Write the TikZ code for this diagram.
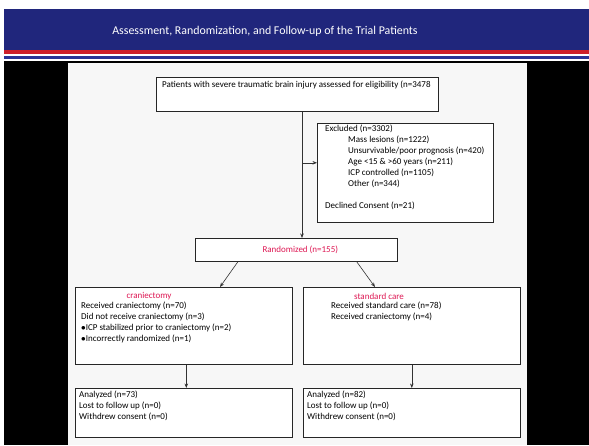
\documentclass[tikz,border=0pt]{standalone}
\usepackage{fontspec}
\setmainfont{Carlito}
\usetikzlibrary{arrows.meta}

\definecolor{hdrblue}{RGB}{32,38,124}
\definecolor{hdrred}{RGB}{205,32,42}
\definecolor{lowblue}{RGB}{42,52,150}
\definecolor{armred}{RGB}{222,24,84}

\begin{document}
\begin{tikzpicture}[x=1pt,y=-1pt,
  box/.style={draw=black!85,line width=0.6pt,fill=white,anchor=north west,inner sep=0pt},
  txt/.style={anchor=north west,inner sep=0pt,align=left,font=\fontsize{9}{11}\selectfont},
  armtxt/.style={inner sep=0pt,text=armred,font=\fontsize{9}{11}\selectfont},
  arr/.style={-{Stealth[length=4.5pt,width=3.5pt]},line width=0.6pt,draw=black!80}]
% The slide
\useasboundingbox (0,0) rectangle (589,445);
\fill[white] (0,0) rectangle (589,445);
\fill[hdrblue] (4,9) rectangle (589,50);
\fill[hdrred] (4,50) rectangle (589,54);
\fill[lowblue] (4,55.5) rectangle (589,59);
\fill[black] (4,61) rectangle (589,445);
\fill[gray!6] (68,63) rectangle (527,445);
\node[inner sep=0pt,text=white,font=\fontsize{11.9}{14}\selectfont] (title) at (265,31)
  {Assessment, Randomization, and Follow-up of the Trial Patients};

% The boxes
\foreach \nm/\xx/\yy/\ww/\hh in {top/156/77/282/34, excl/317/123/176/99,
  rand/195/238/202/23, cran/75/287/217/77, std/303/287/217/77,
  anl/75/388/217/49, ans/303/388/217/49}
{
  \node[box,minimum width=\ww pt,minimum height=\hh pt] (\nm) at (\xx,\yy) {};
}

% The texts
\node[txt] (toptxt) at ([shift={(6pt,-4pt)}]top.north west)
  {Patients with severe traumatic brain injury assessed for eligibility (n=3478};
\node[txt] (excltxt) at ([shift={(8pt,-2pt)}]excl.north west)
  {Excluded (n=3302)\\
   \hspace*{23pt}Mass lesions (n=1222)\\
   \hspace*{23pt}Unsurvivable/poor prognosis (n=420)\\
   \hspace*{23pt}Age <15 \& >60 years (n=211)\\
   \hspace*{23pt}ICP controlled (n=1105)\\
   \hspace*{23pt}Other (n=344)\\[11pt]
   Declined Consent (n=21)};
\node[armtxt] (randtxt) at ([xshift=4pt]rand.center) {Randomized (n=155)};
\node[armtxt] (crantxt) at (149,296) {craniectomy};
\node[txt] (crantxt2) at ([shift={(6pt,-15pt)}]cran.north west)
  {Received craniectomy (n=70)\\
   Did not receive craniectomy (n=3)\\
   $\bullet$ICP stabilized prior to craniectomy (n=2)\\
   $\bullet$Incorrectly randomized (n=1)};
\node[armtxt] (stdtxt) at (379,296) {standard care};
\node[txt] (stdtxt2) at ([shift={(28pt,-15pt)}]std.north west)
  {Received standard care (n=78)\\
   Received craniectomy (n=4)};
\node[txt] (anltxt) at ([shift={(4pt,-3pt)}]anl.north west)
  {Analyzed (n=73)\\ Lost to follow up (n=0)\\ Withdrew consent (n=0)};
\node[txt] (anstxt) at ([shift={(4pt,-3pt)}]ans.north west)
  {Analyzed (n=82)\\ Lost to follow up (n=0)\\ Withdrew consent (n=0)};

% Arrows
\coordinate (trunk) at (302,0);
\draw[arr] (top.south -| trunk) -- (rand.north -| trunk);
\draw[arr] ([yshift=10pt]excl.west -| trunk) -- ([yshift=10pt]excl.west);
\draw[arr] ([xshift=43pt]rand.south west) -- ([xshift=145pt]cran.north west);
\draw[arr] ([xshift=-41pt]rand.south east) -- ([xshift=72pt]std.north west);
\draw[arr] ([xshift=2.5pt]cran.south) -- ([xshift=2.5pt]anl.north);
\draw[arr] (std.south) -- (ans.north);
\end{tikzpicture}
\end{document}
